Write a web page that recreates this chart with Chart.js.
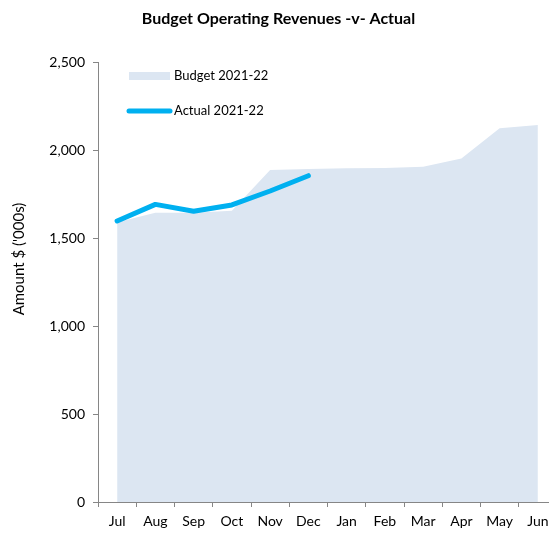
<!DOCTYPE html>
<html>
<head>
<meta charset="utf-8">
<script src="https://cdn.jsdelivr.net/npm/chart.js@4.4.1/dist/chart.umd.min.js"></script>
<style>
    html, body { margin: 0; padding: 0; background: #fff; overflow: hidden; }
    #wrap { width: 560px; height: 535px; position: relative; }
</style>
</head>
<body>
<div id="wrap"><canvas id="revChart"></canvas></div>
<script>
const months = ['Jul', 'Aug', 'Sep', 'Oct', 'Nov', 'Dec', 'Jan', 'Feb', 'Mar', 'Apr', 'May', 'Jun'];
const budget = [1590, 1644, 1644, 1655, 1886, 1892, 1896, 1898, 1905, 1951, 2123, 2142];
const actual = [1597, 1691, 1652, 1688, 1767, 1854];
const yTicks = [0, 500, 1000, 1500, 2000, 2500];
const yTitle = "Amount $ ('000s)";

const budgetColor = '#dce6f2';
const actualColor = '#00b0f0';
const axisColor = '#868686';
const fontFamily = 'Lato, "Open Sans", sans-serif';

Chart.defaults.font.family = fontFamily;
Chart.defaults.color = '#000';

// legend sits inside the plot area, top-left; y title drawn a bit above centre like the original
const insideLegend = {
    id: 'insideLegend',
    afterDraw(chart) {
        const {ctx, chartArea} = chart;
        const x0 = chartArea.left + 31;
        const x1 = chartArea.left + 72;
        ctx.save();
        ctx.font = '13px ' + fontFamily;
        ctx.textBaseline = 'middle';

        const y1 = chartArea.top + 14;
        ctx.fillStyle = budgetColor;
        ctx.fillRect(x0, y1 - 4, x1 - x0, 8);
        ctx.fillStyle = '#000';
        ctx.fillText(chart.data.datasets[1].label, x1 + 4, y1);

        const y2 = chartArea.top + 49;
        ctx.strokeStyle = actualColor;
        ctx.lineWidth = 5;
        ctx.lineCap = 'round';
        ctx.beginPath();
        ctx.moveTo(x0, y2);
        ctx.lineTo(x1, y2);
        ctx.stroke();
        ctx.fillText(chart.data.datasets[0].label, x1 + 4, y2);

        // axis title
        ctx.translate(chartArea.left - 79, chartArea.top + 197);
        ctx.rotate(-Math.PI / 2);
        ctx.font = '15px ' + fontFamily;
        ctx.textAlign = 'center';
        ctx.fillText(yTitle, 0, 0);
        ctx.restore();
    }
};

new Chart(document.getElementById('revChart').getContext('2d'), {
    type: 'line',
    data: {
        labels: months,
        datasets: [{
            label: 'Actual 2021-22',
            data: actual,
            borderColor: actualColor,
            borderWidth: 5,
            borderCapStyle: 'round',
            borderJoinStyle: 'round',
            pointRadius: 0,
            tension: 0,
            fill: false,
            order: 0
        }, {
            label: 'Budget 2021-22',
            data: budget,
            borderWidth: 0,
            borderColor: budgetColor,
            backgroundColor: budgetColor,
            pointRadius: 0,
            tension: 0,
            fill: 'origin',
            order: 1
        }]
    },
    options: {
        responsive: true,
        maintainAspectRatio: false,
        animation: false,
        layout: { padding: { left: 0, right: 3, top: 0, bottom: 0 } },
        plugins: {
            legend: { display: false },
            tooltip: { enabled: false },
            title: {
                display: true,
                text: 'Budget Operating Revenues -v- Actual',
                color: '#000',
                font: { size: 16, weight: 'bold' },
                padding: { top: 9, bottom: 33.8 }
            }
        },
        scales: {
            x: {
                offset: true,
                grid: {
                    offset: true,
                    drawOnChartArea: false,
                    drawTicks: true,
                    tickLength: 5,
                    color: axisColor
                },
                border: { display: true, color: axisColor, width: 1 },
                ticks: { font: { size: 14 }, padding: 6, maxRotation: 0, autoSkip: false },
                afterFit: scale => { scale.height = 33; }
            },
            y: {
                min: 0,
                max: 2500,
                afterBuildTicks: scale => { scale.ticks = yTicks.map(v => ({value: v})); },
                grid: {
                    drawOnChartArea: false,
                    drawTicks: true,
                    tickLength: 5,
                    color: axisColor
                },
                border: { display: true, color: axisColor, width: 1 },
                ticks: {
                    font: { size: 14 },
                    padding: 8,
                    callback: v => v.toLocaleString('en-US')
                },
                title: { display: false },
                afterFit: scale => { scale.width = 98; }
            }
        }
    },
    plugins: [insideLegend]
});
</script>
</body>
</html>
